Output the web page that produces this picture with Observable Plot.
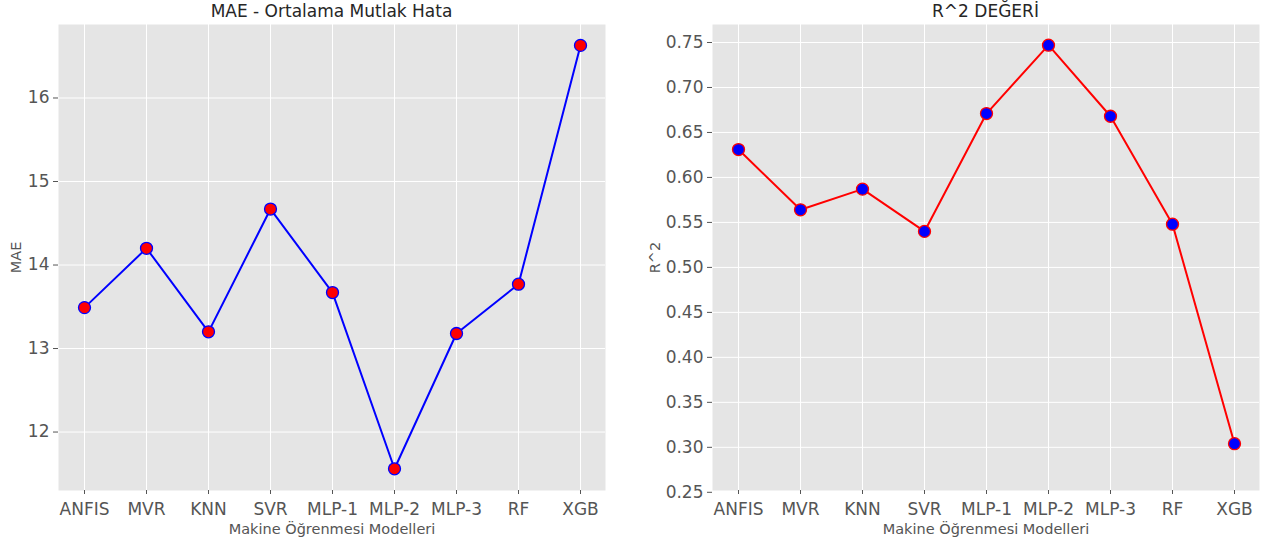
<!DOCTYPE html>
<html><head><meta charset="utf-8">
<script src="https://cdn.jsdelivr.net/npm/d3@7"></script>
<script src="https://cdn.jsdelivr.net/npm/@observablehq/plot@0.6"></script>
<style>
body{margin:0;background:#fff;font-family:"DejaVu Sans",sans-serif;}
#wrap{position:relative;width:1271px;height:544px;overflow:hidden;}
.panel{position:absolute;top:0;height:544px;}
.title{position:absolute;top:1px;text-align:center;font-size:17px;line-height:21px;color:#262626;white-space:nowrap;}
</style></head>
<body>
<div id="wrap"></div>
<script>
const models = ["ANFIS","MVR","KNN","SVR","MLP-1","MLP-2","MLP-3","RF","XGB"];
const maeValues = [13.49, 14.20, 13.20, 14.67, 13.67, 11.56, 13.18, 13.77, 16.63];
const r2Values = [0.631, 0.564, 0.587, 0.540, 0.671, 0.747, 0.668, 0.548, 0.304];
const maeTicks = [12, 13, 14, 15, 16];
const r2Ticks = [0.25, 0.30, 0.35, 0.40, 0.45, 0.50, 0.55, 0.60, 0.65, 0.70, 0.75];
const xLabel = "Makine Öğrenmesi Modelleri";

function panel(cfg) {
  const data = models.map((m, i) => ({model: m, v: cfg.values[i]}));
  return Plot.plot({
    width: cfg.w, height: 544,
    marginLeft: cfg.ml, marginRight: cfg.mr, marginTop: 24, marginBottom: 54,
    style: {fontFamily: "DejaVu Sans", fontSize: "17px", color: "#555", background: "transparent", overflow: "visible"},
    x: {type: "point", domain: models, padding: 0.4},
    y: {domain: cfg.domain},
    marks: [
      Plot.frame({fill: "#E5E5E5", stroke: null}),
      Plot.gridX(models, {stroke: "white", strokeOpacity: 1, strokeWidth: 1}),
      Plot.gridY(cfg.ticks, {stroke: "white", strokeOpacity: 1, strokeWidth: 1}),
      Plot.axisX({tickSize: 4, tickPadding: 8, fontSize: 17, stroke: "#555", fill: "#555", label: null}),
      Plot.axisY({ticks: cfg.ticks, tickFormat: cfg.fmt, tickSize: 5, tickPadding: 4, fontSize: 17, stroke: "#555", fill: "#555", label: null}),
      Plot.text([xLabel], {frameAnchor: "bottom", lineAnchor: "middle", textAnchor: "middle", dy: 39, fontSize: 14.5, fill: "#555", text: d => d}),
      Plot.text([cfg.ylabel], {frameAnchor: "left", lineAnchor: "middle", textAnchor: "middle", dx: cfg.ydx, rotate: -90, fontSize: 14.5, fill: "#555", text: d => d}),
      Plot.line(data, {x: "model", y: "v", stroke: cfg.line, strokeWidth: 2}),
      Plot.dot(data, {x: "model", y: "v", r: 6, fill: cfg.fill, stroke: cfg.line, strokeWidth: 1.3})
    ]
  });
}

const wrap = document.getElementById("wrap");
function addPanel(left, w, cfg, title) {
  const div = document.createElement("div");
  div.className = "panel";
  div.style.left = left + "px";
  div.style.width = w + "px";
  cfg.w = w;
  div.appendChild(panel(cfg));
  const t = document.createElement("div");
  t.className = "title";
  t.style.left = cfg.ml + "px";
  t.style.width = (w - cfg.ml - cfg.mr) + "px";
  t.textContent = title;
  div.appendChild(t);
  wrap.appendChild(div);
}

addPanel(0, 635, {values: maeValues, ticks: maeTicks, domain: [11.30, 16.88], fmt: d3.format("d"),
  ml: 58, mr: 30, ydx: -42, ylabel: "MAE", line: "#0000FF", fill: "#FF0000"},
  "MAE - Ortalama Mutlak Hata");
addPanel(635, 636, {values: r2Values, ticks: r2Ticks, domain: [0.252, 0.77], fmt: d3.format(".2f"),
  ml: 77, mr: 12, ydx: -57, ylabel: "R^2", line: "#FF0000", fill: "#0000FF"},
  "R^2 DEĞERİ");
</script>
</body></html>
